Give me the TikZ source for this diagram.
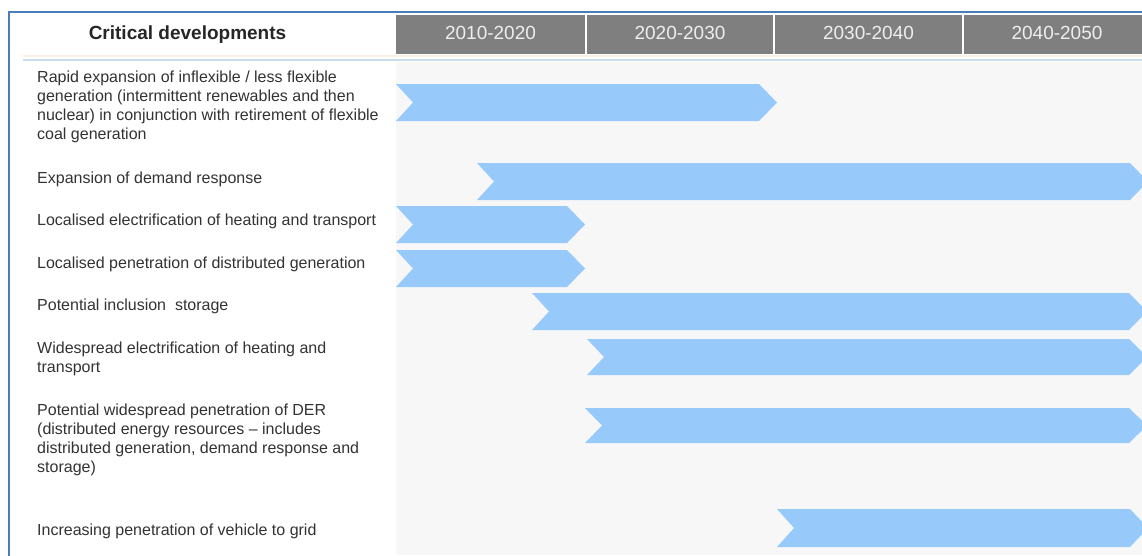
\documentclass[tikz,border=0pt]{standalone}
\usepackage{fontspec}
\setmainfont{Liberation Sans}
\definecolor{framecol}{HTML}{4A7EBB}
\definecolor{hdrgray}{HTML}{7F7F7F}
\definecolor{hdrtext}{HTML}{EEEEEE}
\definecolor{bgarea}{HTML}{F7F7F7}
\definecolor{barcol}{RGB}{151,202,251}
\definecolor{seplight}{HTML}{C8DDF0}
\definecolor{peach}{HTML}{FBEEE2}
\definecolor{bodytext}{HTML}{333333}
\tikzset{
  yearcell/.style={fill=hdrgray, draw=none},
  yeartext/.style={anchor=base, inner sep=0pt, text=hdrtext, font=\fontsize{19}{22}\selectfont},
  rowtext/.style={anchor=base west, inner sep=0pt, align=left, text=bodytext,
     font=\fontsize{16}{19}\selectfont},
  barfill/.style={fill=barcol, draw=none},
}
\newcommand{\chevron}[4]{%
  \fill[barfill] (#1,#3) -- ({#2-18},#3) -- (#2,{(#3+#4)/2}) -- ({#2-18},#4)
     -- (#1,#4) -- ({#1+17},{(#3+#4)/2}) -- cycle;}
\begin{document}
\begin{tikzpicture}[x=1pt,y=-1pt]
\useasboundingbox (0,0) rectangle (1142,555);
\begin{scope}
\clip (0,0) rectangle (1142,555);
\fill[white] (0,0) rectangle (1142,555);
% grey area
\fill[bgarea] (396,62) rectangle (1142,555);
% header cells
\fill[yearcell] (396,15) rectangle (584.5,54);
\fill[yearcell] (586.5,15) rectangle (773,54);
\fill[yearcell] (775,15) rectangle (962,54);
\fill[yearcell] (964,15) rectangle (1150,54);
\node[yeartext] (y1) at (490.5,39) {2010-2020};
\node[yeartext] (y2) at (680,39) {2020-2030};
\node[yeartext] (y3) at (868.5,39) {2030-2040};
\node[yeartext] (y4) at (1057,39) {2040-2050};
\node[anchor=base, inner sep=0pt, text=black!85, font=\fontsize{19}{22}\selectfont\bfseries] (hd) at (187.5,39) {Critical developments};
% separator lines
\draw[peach, line width=2pt] (23,56) -- (1142,56);
\draw[seplight, line width=1.6pt] (23,60) -- (1142,60);
% frame
\draw[framecol, line width=1.1pt] (1142,12) -- (9,12) -- (9,556);
% bars
\chevron{396}{777}{84}{121}
\chevron{477}{1148}{163}{200}
\chevron{396}{585}{206}{243}
\chevron{396}{585}{250}{287}
\chevron{532}{1147}{293}{330}
\chevron{587}{1147}{339}{375}
\chevron{585}{1147}{408}{443}
\chevron{777}{1148}{509}{547}
% row texts (base anchor = baseline of last line)
\node[rowtext] (r1) at (37,139.7) {Rapid expansion of inflexible / less flexible\\generation (intermittent renewables and then\\nuclear) in conjunction with retirement of flexible\\coal generation};
\node[rowtext] (r2) at (37,183.7) {Expansion of demand response};
\node[rowtext] (r3) at (37,225.7) {Localised electrification of heating and transport};
\node[rowtext] (r4) at (37,268.7) {Localised penetration of distributed generation};
\node[rowtext] (r5) at (37,310.7) {Potential inclusion\ \ storage};
\node[rowtext] (r6) at (37,372.7) {Widespread electrification of heating and\\transport};
\node[rowtext] (r7) at (37,472.7) {Potential widespread penetration of DER\\(distributed energy resources – includes\\distributed generation, demand response and\\storage)};
\node[rowtext] (r8) at (37,535.7) {Increasing penetration of vehicle to grid};
\end{scope}
\end{tikzpicture}
\end{document}
